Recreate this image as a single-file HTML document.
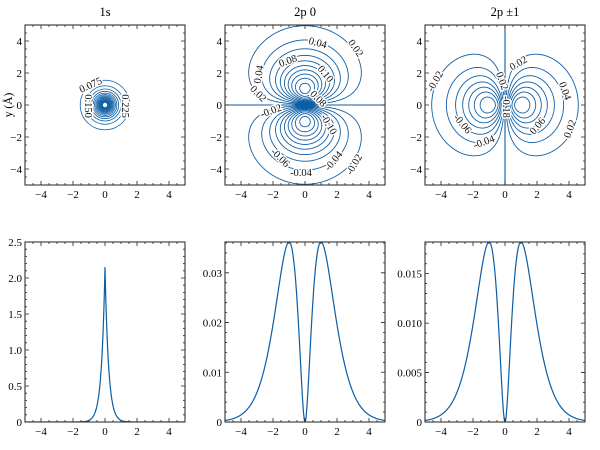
<!DOCTYPE html>
<html><head><meta charset="utf-8"><style>
html,body{margin:0;padding:0;background:#fff;}
svg{display:block;font-family:"Liberation Serif",serif;}
.cl{font-size:10.5px;fill:#111;paint-order:stroke;stroke:#fff;stroke-width:3px;}
</style></head><body>
<svg id="s" width="600" height="450" xmlns="http://www.w3.org/2000/svg">
<text x="105" y="16" font-size="12.5" text-anchor="middle">1s</text>
<text x="305" y="16" font-size="12.5" text-anchor="middle">2p 0</text>
<text x="505" y="16" font-size="12.5" text-anchor="middle">2p ±1</text>
<text transform="translate(12,105) rotate(-90)" font-size="11.5" text-anchor="middle">y (Å)</text>
<g id="plots"></g>
<g id="labels">
<text class="cl" transform="translate(92,88) rotate(-25)" text-anchor="middle">0.075</text>
<text class="cl" transform="translate(85,106) rotate(90)" text-anchor="middle">0.150</text>
<text class="cl" transform="translate(122,106) rotate(90)" text-anchor="middle">0.225</text>

<text class="cl" transform="translate(317,46) rotate(15)" text-anchor="middle">0.04</text>
<text class="cl" transform="translate(353,50) rotate(55)" text-anchor="middle">0.02</text>
<text class="cl" transform="translate(289,64) rotate(-20)" text-anchor="middle">0.08</text>
<text class="cl" transform="translate(323,76) rotate(50)" text-anchor="middle">0.10</text>
<text class="cl" transform="translate(262,75) rotate(-80)" text-anchor="middle">0.04</text>
<text class="cl" transform="translate(256,96) rotate(45)" text-anchor="middle">0.02</text>
<text class="cl" transform="translate(316,101) rotate(45)" text-anchor="middle">0.08</text>
<text class="cl" transform="translate(272,114) rotate(-20)" text-anchor="middle">-0.02</text>
<text class="cl" transform="translate(326,126) rotate(60)" text-anchor="middle">-0.10</text>
<text class="cl" transform="translate(278,160) rotate(45)" text-anchor="middle">-0.06</text>
<text class="cl" transform="translate(336,163) rotate(-50)" text-anchor="middle">-0.04</text>
<text class="cl" transform="translate(301,176) rotate(0)" text-anchor="middle">-0.04</text>
<text class="cl" transform="translate(357,166) rotate(-60)" text-anchor="middle">-0.02</text>

<text class="cl" transform="translate(438,83) rotate(-60)" text-anchor="middle">-0.02</text>
<text class="cl" transform="translate(499,82) rotate(70)" text-anchor="middle">0.02</text>
<text class="cl" transform="translate(520,66) rotate(-30)" text-anchor="middle">0.02</text>
<text class="cl" transform="translate(562,92) rotate(70)" text-anchor="middle">0.04</text>
<text class="cl" transform="translate(460,126) rotate(50)" text-anchor="middle">-0.06</text>
<text class="cl" transform="translate(485,145) rotate(-20)" text-anchor="middle">-0.04</text>
<text class="cl" transform="translate(540,128) rotate(-50)" text-anchor="middle">0.06</text>
<text class="cl" transform="translate(573,130) rotate(-70)" text-anchor="middle">0.02</text>
<text class="cl" transform="translate(503,107) rotate(90)" text-anchor="middle">-0.18</text>
</g>
</svg>
<script>
var NS="http://www.w3.org/2000/svg";
var g=document.getElementById("plots");
var C="#0C5DA5";
function el(t,a,p){var e=document.createElementNS(NS,t);for(var k in a)e.setAttribute(k,a[k]);(p||g).appendChild(e);return e;}
var X0=[25,225,425];
var defs=el("defs",{});
for(var i=0;i<3;i++){
 var cp=el("clipPath",{id:"ct"+i},defs);el("rect",{x:X0[i],y:25,width:160,height:160},cp);
 var cb=el("clipPath",{id:"cb"+i},defs);el("rect",{x:X0[i],y:242,width:160,height:180},cb);
}
function contour(i,f,levels){
 var x0=X0[i],N=240,h=10/N,d="";
 var grid=[];
 for(var a=0;a<=N;a++){grid[a]=[];for(var b=0;b<=N;b++){grid[a][b]=f(-5+a*h+1e-4,-5+b*h+1e-4);}}
 function px(x){return x0+(x+5)*16;} function py(y){return 105-y*16;}
 levels.forEach(function(L){
  for(var a=0;a<N;a++)for(var b=0;b<N;b++){
   var v=[grid[a][b],grid[a+1][b],grid[a+1][b+1],grid[a][b+1]];
   var P=[[a,b],[a+1,b],[a+1,b+1],[a,b+1]];
   var pts=[];
   for(var e=0;e<4;e++){var u=v[e],w=v[(e+1)%4];
    if((u<L)!=(w<L)){var t=(L-u)/(w-u);var p1=P[e],p2=P[(e+1)%4];
     pts.push([-5+(p1[0]+t*(p2[0]-p1[0]))*h,-5+(p1[1]+t*(p2[1]-p1[1]))*h]);}}
   for(var k=0;k+1<pts.length;k+=2){
    d+="M"+px(pts[k][0]).toFixed(2)+" "+py(pts[k][1]).toFixed(2)+"L"+px(pts[k+1][0]).toFixed(2)+" "+py(pts[k+1][1]).toFixed(2);
   }
  }
 });
 el("path",{d:d,fill:"none",stroke:C,"stroke-width":0.9,"clip-path":"url(#ct"+i+")"});
}
(function(){
 for(var k=1;k<=16;k++){var r=Math.log(1.66/(0.075*k))/2; if(r<=0.03)continue;
  el("circle",{cx:105,cy:105,r:r*16,fill:"none",stroke:C,"stroke-width":0.8});}
})();
var lv=[];for(var k=1;k<=10;k++){lv.push(0.02*k);lv.push(-0.02*k);}
contour(1,function(x,y){return 0.573*y*Math.exp(-Math.sqrt(x*x+y*y));},lv);
el("line",{x1:225,y1:105,x2:385,y2:105,stroke:C,"stroke-width":1.1});
var lv2=[];for(var k=1;k<=7;k++){lv2.push(0.02*k);lv2.push(-0.02*k);}
contour(2,function(x,y){return 0.426*x*Math.exp(-Math.sqrt(x*x+y*y));},lv2);
el("line",{x1:505,y1:25,x2:505,y2:185,stroke:C,"stroke-width":1.1});
function curve(i,f,ymax){
 var x0=X0[i],d="";
 for(var k=0;k<=400;k++){var x=-5+k*10/400;var y=f(x);
  d+=(k?"L":"M")+(x0+(x+5)*16).toFixed(2)+" "+(422-y/ymax*180).toFixed(2);}
 el("path",{d:d,fill:"none",stroke:C,"stroke-width":1.2,"clip-path":"url(#cb"+i+")"});
}
curve(0,function(x){return 2.15*Math.exp(-4.5*Math.abs(x));},2.5);
curve(1,function(x){return 0.2675*x*x*Math.exp(-2*Math.abs(x));},0.0362);
curve(2,function(x){return 0.1345*x*x*Math.exp(-2*Math.abs(x));},0.0182);
function axes(x0,y0,w,h,xt,yt,ymin,ymax,ymaj,ymin2,ylabels){
 var ticks="";
 function sx(v){return x0+(v+5)/10*w;} function sy(v){return y0+h-(v-ymin)/(ymax-ymin)*h;}
 for(var v=-5;v<=5.001;v+=0.5){var X=sx(v);var major=Math.abs(v/2-Math.round(v/2))<1e-6;var L=major?4:2;
  ticks+="M"+X+" "+(y0+h)+"v"+(-L)+"M"+X+" "+y0+"v"+L;
  if(major){el("text",{x:X,y:y0+h+13,"font-size":11,"text-anchor":"middle"}).textContent=(v<0?"−":"")+Math.abs(v);}
 }
 for(var v=ymin;v<=ymax+1e-9;v+=ymin2){var Y=sy(v);var r=v/ymaj;var major=Math.abs(r-Math.round(r))<1e-6;var L=major?4:2;
  ticks+="M"+x0+" "+Y+"h"+L+"M"+(x0+w)+" "+Y+"h"+(-L);}
 ylabels.forEach(function(p){el("text",{x:x0-3,y:sy(p[0])+4,"font-size":11,"text-anchor":"end"}).textContent=p[1];});
 el("path",{d:ticks,stroke:"#222","stroke-width":0.8,fill:"none"});
 el("rect",{x:x0,y:y0,width:w,height:h,fill:"none",stroke:"#333","stroke-width":1.1});
}
var tl=[[-4,"−4"],[-2,"−2"],[0,"0"],[2,"2"],[4,"4"]];
for(var i=0;i<3;i++) axes(X0[i],25,160,160,null,null,-5,5,2,0.5,tl);
axes(25,242,160,180,null,null,0,2.5,0.5,0.1,[[0,"0"],[0.5,"0.5"],[1,"1.0"],[1.5,"1.5"],[2,"2.0"],[2.5,"2.5"]]);
axes(225,242,160,180,null,null,0,0.0362,0.01,0.002,[[0,"0"],[0.01,"0.01"],[0.02,"0.02"],[0.03,"0.03"]]);
axes(425,242,160,180,null,null,0,0.0182,0.005,0.001,[[0,"0"],[0.005,"0.005"],[0.01,"0.010"],[0.015,"0.015"]]);
document.getElementById("s").appendChild(document.getElementById("labels"));
</script>
</body></html>
